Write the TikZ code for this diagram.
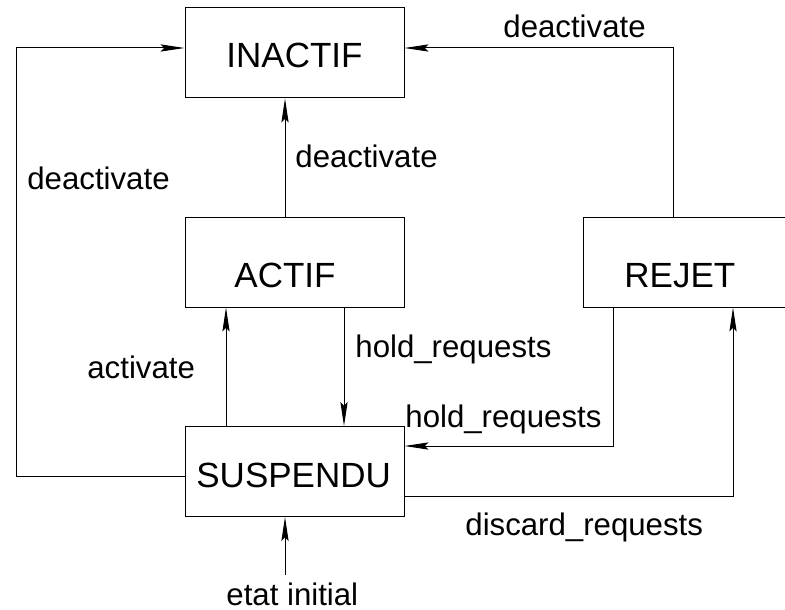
\documentclass[tikz,border=0pt]{standalone}
\usepackage{fontspec}
\setmainfont{Liberation Sans}
\usepackage{tikz}
\usetikzlibrary{arrows.meta}

\begin{document}
\begin{tikzpicture}[x=0.5pt, y=-0.5pt,
    etat/.style={draw, line width=0.5pt, inner sep=0pt, minimum width=109.5pt, minimum height=45pt},
    nom/.style={anchor=base west, inner sep=0pt, font=\fontsize{17.5}{21}\selectfont},
    evt/.style={anchor=base west, inner sep=0pt, font=\fontsize{15.6}{19}\selectfont},
    fl/.style={line width=0.5pt, -{Stealth[length=12pt, width=3.6pt, inset=1.8pt]}}]
  \useasboundingbox (0,0) rectangle (785,609);

  % Etats
  \node[etat] (inactif) at (294.5,53) {};
  \node[etat] (actif) at (294.5,262) {};
  \node[etat] (rejet) at (692.5,262) {};
  \node[etat] (suspendu) at (294.5,471.5) {};

  \node[nom] (tinactif) at (226,68) {INACTIF};
  \node[nom] (tactif) at (234,287) {ACTIF};
  \node[nom] (trejet) at (624,287) {REJET};
  \node[nom] (tsuspendu) at (196,487) {SUSPENDU};

  % Transitions
  \draw[fl] ([xshift=-4.75pt]actif.north) -- ([xshift=-4.75pt]inactif.south);
  \node[evt] (e1) at (295,168) {deactivate};

  \coordinate (gauche) at (16,48);
  \draw[fl] ([yshift=-2.25pt]suspendu.west) -| (gauche) -- (gauche -| inactif.west);
  \node[evt] (e2) at (27,190) {deactivate};

  \draw[fl] ([xshift=-9.75pt]rejet.north) |- ([yshift=2.5pt]inactif.east);
  \node[evt] (e3) at (503,38) {deactivate};

  \draw[fl] ([xshift=-34.25pt]suspendu.north) -- ([xshift=-34.25pt]actif.south);
  \node[evt] (e4) at (87,378) {activate};

  \draw[fl] ([xshift=24.75pt]actif.south) -- ([xshift=24.75pt]suspendu.north);
  \node[evt] (e5) at (355,357) {hold\_requests};

  \draw[fl] ([xshift=-39.75pt]rejet.south) |- ([yshift=12.75pt]suspendu.east);
  \node[evt] (e6) at (405,427) {hold\_requests};

  \draw[fl] ([yshift=-12.25pt]suspendu.east) -| ([xshift=20.25pt]rejet.south);
  \node[evt] (e7) at (465,535) {discard\_requests};

  % Etat initial
  \coordinate (depart) at (285,575);
  \draw[fl] (depart) -- (depart |- suspendu.south);
  \node[evt] (e8) at (226,605) {etat initial};

\end{tikzpicture}
\end{document}
